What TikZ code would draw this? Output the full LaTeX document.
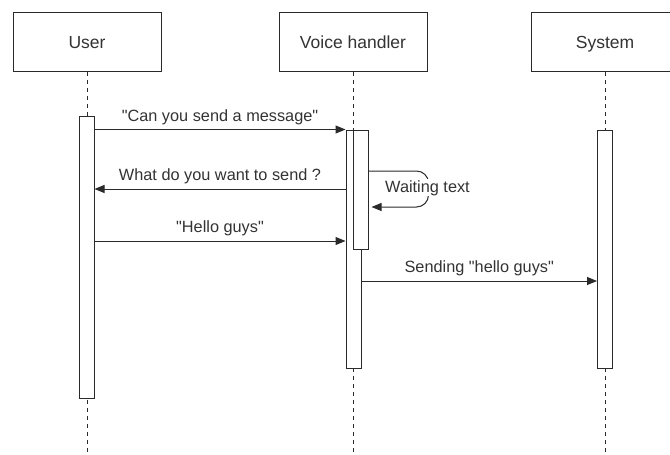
\documentclass[tikz,border=0pt]{standalone}
\usepackage{fontspec}
\setmainfont{Liberation Sans}[Ligatures=TeXOff]
\usetikzlibrary{arrows.meta}
\definecolor{ink}{HTML}{333333}
\definecolor{edge}{HTML}{2A2A2A}
\tikzset{
  head/.style={draw=edge, line width=1pt, fill=white, minimum width=148pt,
    minimum height=59pt, inner sep=0pt, text=ink, text height=13pt,
    text depth=0pt, font=\fontsize{17.5}{20}\selectfont},
  bar/.style={draw=edge, line width=1pt, fill=white, minimum width=15pt,
    inner sep=0pt},
  life/.style={draw=edge, line width=1pt, dash pattern=on 4pt off 4pt},
  msg/.style={draw=edge, line width=1pt, -{Triangle[length=10pt,width=8pt]}},
  lbl/.style={text=ink, font=\fontsize{16.3}{19}\selectfont, inner sep=0pt,
    anchor=base},
}
\begin{document}
\begin{tikzpicture}[x=1pt, y=1pt]
\useasboundingbox (0,0) rectangle (670,-455);
\clip (0,0) rectangle (670,-455);

% participants
\node[head] (user)   at (87,-41.5)  {User};
\node[head] (voice)  at (353,-41.5) {Voice handler};
\node[head] (system) at (605,-41.5) {System};

% lifelines
\coordinate (bottom) at (0,-458);
\draw[life] (user.south)   -- (user.south |- bottom);
\draw[life] (voice.south)  -- (voice.south |- bottom);
\draw[life] (system.south) -- (system.south |- bottom);

% activation bars
\node[bar, minimum height=282pt] (ubar) at (86.5,-257)   {};
\node[bar, minimum height=238pt] (vout) at (353.5,-249)  {};
\node[bar, minimum height=119pt] (vin)  at (360.5,-189.5) {};
\node[bar, minimum height=238pt] (sbar) at (605,-249)    {};

% message rows
\coordinate (r2) at (0,-189);
\coordinate (r3) at (0,-241);
\coordinate (r4) at (0,-281);
\coordinate (s1) at (0,-171);
\coordinate (s2) at (0,-207);

% messages
\draw[msg] (ubar.east |- vout.north) -- (vout.north west)
  node[lbl, midway, yshift=8.5pt] {"Can you send a message"};
\draw[msg] (vout.west |- r2) -- (ubar.east |- r2)
  node[lbl, midway, yshift=8.5pt] {What do you want to send ?};
\draw[msg] (ubar.east |- r3) -- (vout.west |- r3)
  node[lbl, midway, yshift=8.5pt] {"Hello guys"};
\draw[msg] (vout.east |- r4) -- (sbar.west |- r4)
  node[lbl, midway, yshift=8.5pt] {Sending "hello guys"};

% self call
\draw[msg, rounded corners=12pt] (vin.east |- s1) -- ++(60,0) |- ([xshift=3pt]vin.east |- s2);
\node[lbl, fill=white, inner sep=1pt] (wait) at (427.5,-192) {Waiting text};
\end{tikzpicture}
\end{document}
